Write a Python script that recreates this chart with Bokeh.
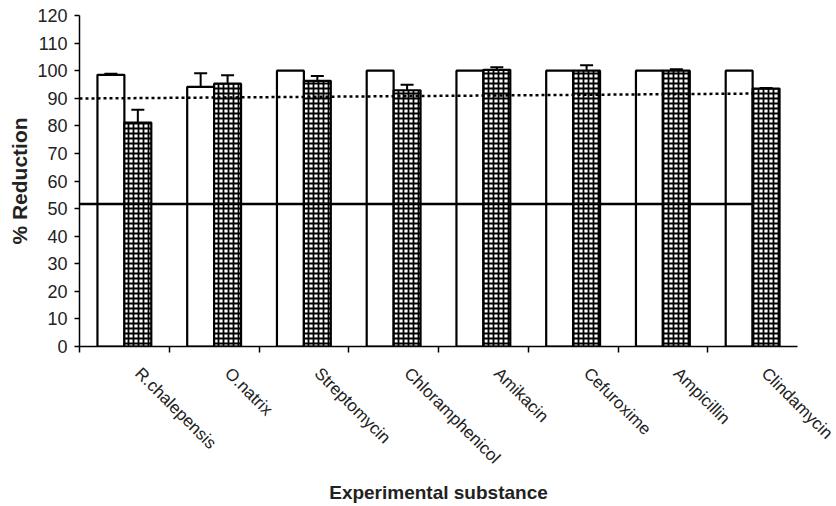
import math
import numpy as np
from bokeh.plotting import figure
from bokeh.models import (Range1d, FixedTicker, ColumnDataSource, Whisker, TeeHead)
from bokeh.embed import file_html
from bokeh.resources import INLINE

# ---- data ----
categories = ["R.chalepensis", "O.natrix", "Streptomycin", "Chloramphenicol",
              "Amikacin", "Cefuroxime", "Ampicillin", "Clindamycin"]
series_open = [98.5, 94.1, 100.0, 100.0, 100.0, 100.0, 100.0, 100.0]
series_open_err = [0.4, 5.0, 0.0, 0.0, 0.0, 0.0, 0.0, 0.0]
series_checked = [81.2, 95.3, 96.3, 92.9, 100.3, 100.0, 100.0, 93.5]
series_checked_err = [4.6, 3.0, 1.8, 2.0, 0.9, 2.0, 0.5, 0.2]
dotted_line_y = [89.9, 91.7]
solid_line_y = 51.7
y_ticks = list(range(0, 121, 10))

n = len(categories)
idx = np.arange(n)

FONT = "Liberation Sans"

p = figure(width=836, height=506, x_range=Range1d(0, n), y_range=Range1d(0, 120),
           output_backend="svg", toolbar_location=None,
           min_border_left=79, min_border_right=39, min_border_top=15, min_border_bottom=159)
p.grid.visible = False
p.outline_line_color = None
p.background_fill_color = "white"
p.border_fill_color = "white"

src_o = ColumnDataSource(dict(x=idx + 0.35, top=series_open))
src_c = ColumnDataSource(dict(x=idx + 0.65, top=series_checked))

p.vbar(x="x", top="top", bottom=0, width=0.3, source=src_o,
       fill_color="white", line_color="black", line_width=2.2)
p.vbar(x="x", top="top", bottom=0, width=0.3, source=src_c,
       fill_color="white", hatch_pattern="cross", hatch_color="black",
       hatch_scale=5, hatch_weight=1.8, line_color="black", line_width=2.2)

# error bars
def err_source(xs, vals, errs):
    xs2, up, lo = [], [], []
    for x, v, e in zip(xs, vals, errs):
        if e > 0:
            xs2.append(x); up.append(v + e); lo.append(v - e)
    return ColumnDataSource(dict(base=xs2, upper=up, lower=lo))

for s in (err_source(idx + 0.35, series_open, series_open_err),
          err_source(idx + 0.65, series_checked, series_checked_err)):
    w = Whisker(base="base", upper="upper", lower="lower", source=s,
                line_color="black", line_width=2,
                upper_head=TeeHead(size=13, line_color="black", line_width=2),
                lower_head=TeeHead(size=13, line_color="black", line_width=2))
    p.add_layout(w)

# reference lines
p.line(x=[0, n - 0.5], y=dotted_line_y, line_color="black", line_width=2.5, line_dash="3 3")
p.line(x=[0, n - 0.5], y=[solid_line_y, solid_line_y], line_color="black", line_width=2.5)

# x axis: labels near group centres (major, invisible ticks), ticks at group boundaries (minor)
label_pos = [float(i) + 0.65 for i in idx]
p.xaxis.ticker = FixedTicker(ticks=label_pos, minor_ticks=[float(i) for i in range(0, n)])
p.xaxis.major_label_overrides = {lp: c for lp, c in zip(label_pos, categories)}
p.xaxis.major_label_orientation = -math.pi / 4
p.xaxis.major_label_standoff = 18
p.xaxis.major_label_text_font = FONT
p.xaxis.major_label_text_font_size = "17px"
p.xaxis.major_label_text_color = "#222222"
p.xaxis.major_tick_line_color = None
p.xaxis.major_tick_out = 6
p.xaxis.minor_tick_in = 0
p.xaxis.minor_tick_out = 6
p.xaxis.minor_tick_line_color = "black"
p.xaxis.minor_tick_line_width = 1.5
p.xaxis.axis_line_color = "black"
p.xaxis.axis_line_width = 1.5
p.xaxis.axis_label = "Experimental substance"
p.xaxis.axis_label_text_font = FONT
p.xaxis.axis_label_text_font_size = "19px"
p.xaxis.axis_label_text_font_style = "bold"
p.xaxis.axis_label_text_color = "#222222"
p.xaxis.axis_label_standoff = 5

p.yaxis.ticker = FixedTicker(ticks=y_ticks)
p.yaxis.major_tick_in = 0
p.yaxis.major_tick_out = 5
p.yaxis.minor_tick_line_color = None
p.yaxis.axis_line_color = "black"
p.yaxis.axis_line_width = 1.5
p.yaxis.major_tick_line_width = 1.5
p.yaxis.major_label_text_font = FONT
p.yaxis.major_label_text_font_size = "18px"
p.yaxis.major_label_text_color = "#222222"
p.yaxis.major_label_standoff = 7
p.yaxis.axis_label = "% Reduction"
p.yaxis.axis_label_text_font = FONT
p.yaxis.axis_label_text_font_size = "21px"
p.yaxis.axis_label_text_font_style = "bold"
p.yaxis.axis_label_text_color = "#222222"
p.yaxis.axis_label_standoff = 3

open("out.html", "w").write(file_html(p, INLINE))
